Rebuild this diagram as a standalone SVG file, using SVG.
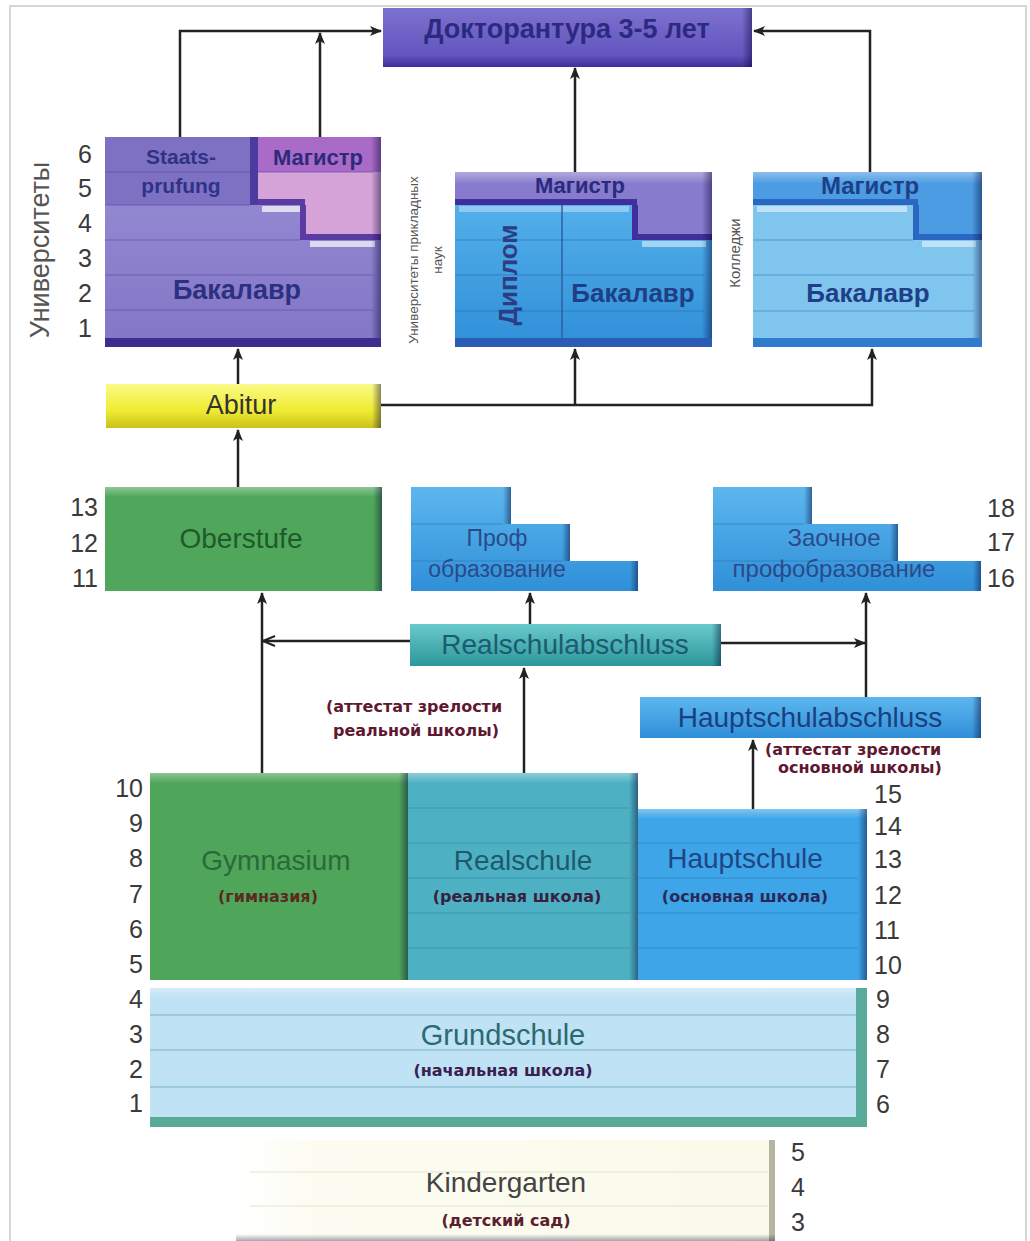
<svg xmlns="http://www.w3.org/2000/svg" width="1030" height="1241" viewBox="0 0 1030 1241">
<defs>
<style>
.num{font-family:"Liberation Sans",Arial,sans-serif;font-size:25px;fill:#3a3a3a}
.nr{text-anchor:end}
.lbl{font-family:"Liberation Sans",Arial,sans-serif;text-anchor:middle}
.bru{font-family:"Liberation Sans",Arial,sans-serif;font-weight:bold;text-anchor:middle}
.sub{font-family:"DejaVu Sans",Verdana,sans-serif;font-weight:bold;font-size:16px;text-anchor:middle}
.side{font-family:"Liberation Sans",Arial,sans-serif;fill:#555;text-anchor:middle}
.conn{stroke:#222;stroke-width:2.5;fill:none}
.row{fill:none;stroke-width:1.2}
</style>
<linearGradient id="shR" x1="0" y1="0" x2="1" y2="0"><stop offset="0" stop-color="#000030" stop-opacity="0"/><stop offset="1" stop-color="#000030" stop-opacity="0.45"/></linearGradient>
<linearGradient id="hiT" x1="0" y1="0" x2="0" y2="1"><stop offset="0" stop-color="#fff" stop-opacity="0.35"/><stop offset="1" stop-color="#fff" stop-opacity="0"/></linearGradient>
<linearGradient id="shB" x1="0" y1="0" x2="0" y2="1"><stop offset="0" stop-color="#000030" stop-opacity="0"/><stop offset="1" stop-color="#000030" stop-opacity="0.35"/></linearGradient>
<linearGradient id="gPur" x1="0" y1="0" x2="0" y2="1"><stop offset="0" stop-color="#9a8fd6"/><stop offset="1" stop-color="#8276c6"/></linearGradient>
<linearGradient id="gDoc" x1="0" y1="0" x2="0" y2="1"><stop offset="0" stop-color="#7d71cf"/><stop offset="0.8" stop-color="#6355bf"/><stop offset="1" stop-color="#3d2f98"/></linearGradient>
<linearGradient id="gYel" x1="0" y1="0" x2="0" y2="1"><stop offset="0" stop-color="#fafa86"/><stop offset="0.6" stop-color="#f0eb32"/><stop offset="1" stop-color="#c9c21c"/></linearGradient>
<linearGradient id="gTeal" x1="0" y1="0" x2="0" y2="1"><stop offset="0" stop-color="#69c9ca"/><stop offset="1" stop-color="#2d979b"/></linearGradient>
<linearGradient id="gBlue" x1="0" y1="0" x2="0" y2="1"><stop offset="0" stop-color="#5db7ee"/><stop offset="1" stop-color="#2f8fd8"/></linearGradient>
<linearGradient id="gKind" x1="0" y1="0" x2="1" y2="0"><stop offset="0" stop-color="#ffffff"/><stop offset="0.15" stop-color="#fcfcf2"/><stop offset="1" stop-color="#fafaea"/></linearGradient>
<marker id="ah" viewBox="0 0 12 10" refX="11" refY="5" markerWidth="12" markerHeight="10" markerUnits="userSpaceOnUse" orient="auto"><path d="M0,0 L12,5 L0,10 L3,5 Z" fill="#222"/></marker>
<marker id="ao" viewBox="0 0 14 12" refX="13" refY="6" markerWidth="14" markerHeight="12" markerUnits="userSpaceOnUse" orient="auto"><path d="M1,1 L13,6 L1,11" fill="none" stroke="#222" stroke-width="2"/></marker>
</defs>

<rect x="0" y="0" width="1030" height="1241" fill="#ffffff"/>
<rect x="10" y="6" width="1016" height="1240" fill="none" stroke="#d6d6d6" stroke-width="2"/>

<g id="connectors">
<polyline class="conn" points="180,137 180,31 381,31" marker-end="url(#ah)"/>
<line class="conn" x1="320" y1="137" x2="320" y2="33" marker-end="url(#ah)"/>
<line class="conn" x1="575" y1="172" x2="575" y2="68" marker-end="url(#ah)"/>
<polyline class="conn" points="870,172 870,31 754,31" marker-end="url(#ah)"/>
<line class="conn" x1="238" y1="384" x2="238" y2="349" marker-end="url(#ah)"/>
<polyline class="conn" points="381,405 872,405 872,349" marker-end="url(#ah)"/>
<line class="conn" x1="575" y1="405" x2="575" y2="349" marker-end="url(#ah)"/>
<line class="conn" x1="238" y1="487" x2="238" y2="430" marker-end="url(#ah)"/>
<line class="conn" x1="262" y1="773" x2="262" y2="593" marker-end="url(#ah)"/>
<line class="conn" x1="410" y1="641" x2="263" y2="641" marker-end="url(#ao)"/>
<line class="conn" x1="721" y1="643" x2="865" y2="643" marker-end="url(#ah)"/>
<line class="conn" x1="530" y1="624" x2="530" y2="593" marker-end="url(#ah)"/>
<line class="conn" x1="524" y1="773" x2="524" y2="668" marker-end="url(#ah)"/>
<line class="conn" x1="866" y1="697" x2="866" y2="593" marker-end="url(#ah)"/>
<line class="conn" x1="753" y1="809" x2="753" y2="740" marker-end="url(#ah)"/>
</g>

<g id="doctorate">
<rect x="383" y="8" width="369" height="59" fill="url(#gDoc)"/>
<rect x="742" y="8" width="10" height="59" fill="url(#shR)"/>
<text class="bru" x="567" y="38" font-size="27" fill="#2b2a80">Докторантура 3-5 лет</text>
</g>

<g id="universities">
<rect x="105" y="137" width="276" height="210" fill="url(#gPur)"/>
<rect x="105" y="137" width="152" height="68" fill="#7e71c4"/>
<path d="M257,137 H381 V240 H305 V205 H257 Z" fill="#d6a3d9"/>
<rect x="257" y="137" width="124" height="35" fill="#a96bc7"/>
<rect x="250" y="137" width="8" height="68" fill="#4b3b9e"/>
<rect x="258" y="199" width="47" height="6" fill="#5a3ba3"/>
<rect x="300" y="205" width="6" height="35" fill="#5a3ba3"/>
<rect x="306" y="234" width="75" height="6" fill="#5a3ba3"/>
<rect x="262" y="206" width="38" height="6" fill="#ffffff" opacity="0.7"/>
<rect x="310" y="241" width="65" height="6" fill="#ffffff" opacity="0.7"/>
<g class="row" stroke="#5d50a8" stroke-opacity="0.7">
<line x1="105" y1="172" x2="250" y2="172"/>
<line x1="258" y1="172" x2="373" y2="172"/>
<line x1="105" y1="205" x2="250" y2="205"/>
<line x1="105" y1="240" x2="300" y2="240"/>
<line x1="105" y1="275" x2="373" y2="275"/>
<line x1="105" y1="310" x2="373" y2="310"/>
</g>
<rect x="371" y="137" width="10" height="210" fill="url(#shR)"/>
<rect x="105" y="338" width="276" height="9" fill="#3d2d8f"/>
<text class="bru" x="181" y="164" font-size="21" fill="#2f3385">Staats-</text>
<text class="bru" x="181" y="193" font-size="21" fill="#2f3385">prufung</text>
<text class="bru" x="318" y="165" font-size="22" fill="#2d2a7c">Магистр</text>
<text class="bru" x="237" y="299" font-size="27" fill="#2d2f80">Бакалавр</text>
<text class="side" transform="translate(49,250) rotate(-90)" font-size="27" fill="#444">Университеты</text>
<text class="num nr" x="92" y="163">6</text>
<text class="num nr" x="92" y="197">5</text>
<text class="num nr" x="92" y="232">4</text>
<text class="num nr" x="92" y="267">3</text>
<text class="num nr" x="92" y="302">2</text>
<text class="num nr" x="92" y="337">1</text>
</g>

<g id="applied-universities">
<text class="side" transform="translate(418,260) rotate(-90)" font-size="13.5">Университеты прикладных</text>
<text class="side" transform="translate(442,260) rotate(-90)" font-size="13.5">наук</text>
<rect x="455" y="172" width="257" height="175" fill="url(#gBlue)"/>
<path d="M455,172 H712 V240 H637 V205 H455 Z" fill="#877bcd"/>
<rect x="455" y="172" width="257" height="12" fill="url(#hiT)"/>
<rect x="455" y="199" width="182" height="6" fill="#3f2f9c"/>
<rect x="632" y="205" width="6" height="35" fill="#3f2f9c"/>
<rect x="637" y="234" width="75" height="6" fill="#3f2f9c"/>
<rect x="459" y="206" width="170" height="6" fill="#ffffff" opacity="0.35"/>
<rect x="642" y="241" width="64" height="6" fill="#ffffff" opacity="0.5"/>
<g class="row" stroke="#2a6cb0" stroke-opacity="0.6">
<line x1="455" y1="240" x2="632" y2="240"/>
<line x1="455" y1="275" x2="704" y2="275"/>
<line x1="455" y1="311" x2="704" y2="311"/>
</g>
<line x1="562" y1="205" x2="562" y2="338" stroke="#2d5fa0" stroke-width="1.5"/>
<rect x="702" y="172" width="10" height="175" fill="url(#shR)"/>
<rect x="455" y="338" width="257" height="9" fill="#2a5cb3"/>
<text class="bru" x="580" y="193" font-size="22" fill="#2b2a7c">Магистр</text>
<text class="bru" transform="translate(517,275) rotate(-90)" font-size="26" fill="#2b3d85">Диплом</text>
<text class="bru" x="633" y="302" font-size="26" fill="#1f3f85">Бакалавр</text>
</g>

<g id="colleges">
<text class="side" transform="translate(740,253) rotate(-90)" font-size="15">Колледжи</text>
<rect x="753" y="172" width="229" height="175" fill="#7fc5ee"/>
<path d="M753,172 H982 V240 H918 V205 H753 Z" fill="#4b9ce2"/>
<rect x="753" y="172" width="229" height="12" fill="url(#hiT)"/>
<rect x="753" y="199" width="165" height="6" fill="#2a67c0"/>
<rect x="913" y="205" width="6" height="35" fill="#2a67c0"/>
<rect x="918" y="234" width="64" height="6" fill="#2a67c0"/>
<rect x="757" y="206" width="150" height="6" fill="#ffffff" opacity="0.5"/>
<rect x="922" y="241" width="54" height="6" fill="#ffffff" opacity="0.5"/>
<g class="row" stroke="#3f86c4" stroke-opacity="0.7">
<line x1="753" y1="240" x2="913" y2="240"/>
<line x1="753" y1="275" x2="974" y2="275"/>
<line x1="753" y1="311" x2="974" y2="311"/>
</g>
<rect x="972" y="172" width="10" height="175" fill="url(#shR)"/>
<rect x="753" y="338" width="229" height="9" fill="#2f7bcc"/>
<text class="bru" x="870" y="194" font-size="24" fill="#1f3f88">Магистр</text>
<text class="bru" x="868" y="302" font-size="26" fill="#1f3f88">Бакалавр</text>
</g>

<g id="abitur">
<rect x="106" y="384" width="275" height="44" fill="url(#gYel)"/>
<rect x="372" y="384" width="9" height="44" fill="url(#shR)"/>
<text class="lbl" x="241" y="414" font-size="27" fill="#333">Abitur</text>
</g>

<g id="oberstufe">
<rect x="105" y="487" width="277" height="104" fill="#50a75b"/>
<rect x="105" y="487" width="277" height="10" fill="url(#hiT)"/>
<rect x="373" y="487" width="9" height="104" fill="url(#shR)"/>
<text class="lbl" x="241" y="548" font-size="28" fill="#1e5a2a">Oberstufe</text>
<text class="num nr" x="98" y="516">13</text>
<text class="num nr" x="98" y="552">12</text>
<text class="num nr" x="98" y="587">11</text>
</g>

<g id="prof">
<path d="M411,487 H511 V524 H570 V561 H638 V591 H411 Z" fill="url(#gBlue)"/>
<rect x="503" y="487" width="8" height="37" fill="url(#shR)"/>
<rect x="562" y="524" width="8" height="37" fill="url(#shR)"/>
<rect x="630" y="561" width="8" height="30" fill="url(#shR)"/>
<line x1="411" y1="524" x2="503" y2="524" stroke="#2a6cb0" stroke-opacity="0.5"/>
<line x1="411" y1="561" x2="562" y2="561" stroke="#2a6cb0" stroke-opacity="0.5"/>
<text class="lbl" x="497" y="546" font-size="23" fill="#2a4a8a">Проф</text>
<text class="lbl" x="497" y="577" font-size="23" fill="#2a4a8a">образование</text>
</g>

<g id="zaochnoe">
<path d="M713,487 H812 V524 H898 V561 H981 V591 H713 Z" fill="url(#gBlue)"/>
<rect x="804" y="487" width="8" height="37" fill="url(#shR)"/>
<rect x="890" y="524" width="8" height="37" fill="url(#shR)"/>
<rect x="973" y="561" width="8" height="30" fill="url(#shR)"/>
<line x1="713" y1="524" x2="804" y2="524" stroke="#2a6cb0" stroke-opacity="0.5"/>
<line x1="713" y1="561" x2="890" y2="561" stroke="#2a6cb0" stroke-opacity="0.5"/>
<text class="lbl" x="834" y="546" font-size="24" fill="#2a4a8a">Заочное</text>
<text class="lbl" x="834" y="577" font-size="24" fill="#2a4a8a">профобразование</text>
<text class="num" x="987" y="517">18</text>
<text class="num" x="987" y="551">17</text>
<text class="num" x="987" y="587">16</text>
</g>

<g id="realschulabschluss">
<rect x="410" y="624" width="311" height="42" fill="url(#gTeal)"/>
<rect x="712" y="624" width="9" height="42" fill="url(#shR)"/>
<text class="lbl" x="565" y="654" font-size="28" fill="#1d5b6e">Realschulabschluss</text>
<text class="sub" x="414" y="712" fill="#5e1830">(аттестат зрелости</text>
<text class="sub" x="416" y="736" fill="#5e1830">реальной школы)</text>
</g>

<g id="hauptschulabschluss">
<rect x="640" y="697" width="341" height="41" fill="url(#gBlue)"/>
<rect x="972" y="697" width="9" height="41" fill="url(#shR)"/>
<text class="lbl" x="810" y="727" font-size="28" fill="#1b3f80">Hauptschulabschluss</text>
<text class="sub" x="765" y="755" fill="#5e1830" style="text-anchor:start">(аттестат зрелости</text>
<text class="sub" x="778" y="773" fill="#5e1830" style="text-anchor:start">основной школы)</text>
</g>

<g id="gymnasium">
<rect x="150" y="773" width="258" height="207" fill="#4fa65a"/>
<rect x="150" y="773" width="258" height="10" fill="url(#hiT)"/>
<rect x="399" y="773" width="9" height="207" fill="url(#shR)"/>
<text class="lbl" x="276" y="870" font-size="28" fill="#2a6a3a">Gymnasium</text>
<text class="sub" x="268" y="902" fill="#5a2a20">(гимназия)</text>
</g>

<g id="realschule">
<rect x="408" y="773" width="230" height="207" fill="#4eb1c3"/>
<rect x="408" y="773" width="230" height="10" fill="url(#hiT)"/>
<g class="row" stroke="#2a7a95" stroke-opacity="0.45">
<line x1="408" y1="808" x2="630" y2="808"/>
<line x1="408" y1="843" x2="630" y2="843"/>
<line x1="408" y1="878" x2="630" y2="878"/>
<line x1="408" y1="913" x2="630" y2="913"/>
<line x1="408" y1="948" x2="630" y2="948"/>
</g>
<rect x="629" y="773" width="9" height="207" fill="url(#shR)"/>
<text class="lbl" x="523" y="870" font-size="28" fill="#1d5a6e">Realschule</text>
<text class="sub" x="517" y="902" fill="#3a2040">(реальная школа)</text>
</g>

<g id="hauptschule">
<rect x="638" y="809" width="229" height="171" fill="#3ea5e8"/>
<rect x="638" y="809" width="229" height="10" fill="url(#hiT)"/>
<g class="row" stroke="#2a6cb0" stroke-opacity="0.45">
<line x1="638" y1="843" x2="858" y2="843"/>
<line x1="638" y1="878" x2="858" y2="878"/>
<line x1="638" y1="913" x2="858" y2="913"/>
<line x1="638" y1="948" x2="858" y2="948"/>
</g>
<rect x="858" y="809" width="9" height="171" fill="url(#shR)"/>
<text class="lbl" x="745" y="868" font-size="28" fill="#1f4585">Hauptschule</text>
<text class="sub" x="745" y="902" fill="#2a2a5a">(основная школа)</text>
</g>

<g id="grundschule">
<rect x="150" y="988" width="717" height="139" fill="#bfe2f4"/>
<rect x="150" y="988" width="717" height="10" fill="url(#hiT)"/>
<g class="row" stroke="#6aa8c0" stroke-opacity="0.8">
<line x1="150" y1="1015" x2="858" y2="1015"/>
<line x1="150" y1="1050" x2="858" y2="1050"/>
<line x1="150" y1="1087" x2="858" y2="1087"/>
</g>
<rect x="856" y="988" width="11" height="139" fill="#5aab9c"/>
<rect x="150" y="1117" width="717" height="10" fill="#5aaa9a"/>
<text class="lbl" x="503" y="1045" font-size="29" fill="#2a6a70">Grundschule</text>
<text class="sub" x="503" y="1076" fill="#3a2050">(начальная школа)</text>
</g>

<g id="grades-school">
<text class="num nr" x="143" y="797">10</text>
<text class="num nr" x="143" y="832">9</text>
<text class="num nr" x="143" y="867">8</text>
<text class="num nr" x="143" y="903">7</text>
<text class="num nr" x="143" y="938">6</text>
<text class="num nr" x="143" y="973">5</text>
<text class="num nr" x="143" y="1008">4</text>
<text class="num nr" x="143" y="1043">3</text>
<text class="num nr" x="143" y="1078">2</text>
<text class="num nr" x="143" y="1112">1</text>
<text class="num" x="874" y="803">15</text>
<text class="num" x="874" y="835">14</text>
<text class="num" x="874" y="868">13</text>
<text class="num" x="874" y="904">12</text>
<text class="num" x="874" y="939">11</text>
<text class="num" x="874" y="974">10</text>
<text class="num" x="876" y="1008">9</text>
<text class="num" x="876" y="1043">8</text>
<text class="num" x="876" y="1078">7</text>
<text class="num" x="876" y="1113">6</text>
</g>

<g id="kindergarten">
<rect x="236" y="1140" width="539" height="101" fill="url(#gKind)"/>
<line x1="250" y1="1172" x2="768" y2="1172" stroke="#e4e4d0"/>
<line x1="250" y1="1206" x2="768" y2="1206" stroke="#e4e4d0"/>
<rect x="769" y="1140" width="6" height="101" fill="#b5b5a2"/>
<rect x="236" y="1234" width="539" height="7" fill="url(#shB)"/>
<text class="lbl" x="506" y="1192" font-size="28" fill="#444">Kindergarten</text>
<text class="sub" x="506" y="1226" fill="#5a2030">(детский сад)</text>
<text class="num" x="791" y="1161">5</text>
<text class="num" x="791" y="1196">4</text>
<text class="num" x="791" y="1231">3</text>
</g>
</svg>
